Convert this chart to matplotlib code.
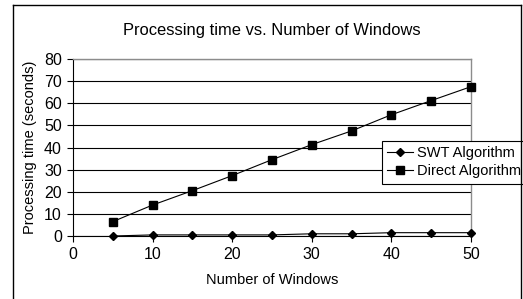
import matplotlib
matplotlib.use("Agg")
import matplotlib.pyplot as plt
from matplotlib.lines import Line2D

plt.rcParams['font.family'] = ['Liberation Sans', 'DejaVu Sans']

# data
windows = [5, 10, 15, 20, 25, 30, 35, 40, 45, 50]
swt_time = [0.0, 0.5, 0.5, 0.5, 0.5, 1.0, 1.0, 1.5, 1.5, 1.5]
direct_time = [6.5, 14.0, 20.5, 27.3, 34.5, 41.3, 47.5, 54.8, 61.2, 67.5]

fig = plt.figure(figsize=(5.23, 2.99), dpi=100)
fig.patch.set_facecolor('white')

# outer chart frame (open at bottom, like the cropped original)
W, H = 523, 299
frame_kw = dict(color='black', linewidth=1.0, transform=fig.transFigure)
fig.add_artist(Line2D([13 / W, 13 / W], [1 - 5 / H, 0], **frame_kw))
fig.add_artist(Line2D([13 / W, 521 / W], [1 - 5 / H, 1 - 5 / H], **frame_kw))
fig.add_artist(Line2D([521 / W, 521 / W], [1 - 5 / H, 0], **frame_kw))

ax = fig.add_axes([73 / W, 1 - 236 / H, (471 - 73) / W, (236 - 59) / H])

ax.plot(windows, swt_time, color='black', linewidth=0.8, marker='D',
        markersize=4.5, label='SWT Algorithm', zorder=5, clip_on=False)
ax.plot(windows, direct_time, color='black', linewidth=0.8, marker='s',
        markersize=5.5, label='Direct Algorithm', zorder=5, clip_on=False)

ax.set_xlim(0, 50)
ax.set_ylim(0, 80)
ax.set_xticks(range(0, 51, 10))
ax.set_yticks(range(0, 81, 10))
ax.grid(axis='y', color='black', linewidth=0.8)
ax.set_axisbelow(True)

for side in ['top', 'right']:
    ax.spines[side].set_color('#8c8c8c')
    ax.spines[side].set_linewidth(1.0)
ax.spines['left'].set_color('black')
ax.spines['bottom'].set_color('black')
ax.tick_params(direction='out', length=4, width=0.8, labelsize=11.5,
               colors='black', pad=4)

ax.set_title('Processing time vs. Number of Windows', fontsize=11.9, pad=17)
ax.set_xlabel('Number of Windows', fontsize=10.5, labelpad=8)
ax.set_ylabel('Processing time (seconds)', fontsize=10.5, labelpad=5)

leg = ax.legend(loc='upper left', bbox_to_anchor=(382 / W, 1 - 141 / H),
                bbox_transform=fig.transFigure, fontsize=10.5, frameon=True,
                fancybox=False, edgecolor='black', framealpha=1,
                borderpad=0.35, handlelength=1.8, handletextpad=0.25,
                labelspacing=0.3, borderaxespad=0)
leg.get_frame().set_linewidth(0.8)

plt.savefig('out.png', dpi=100, facecolor='white')
